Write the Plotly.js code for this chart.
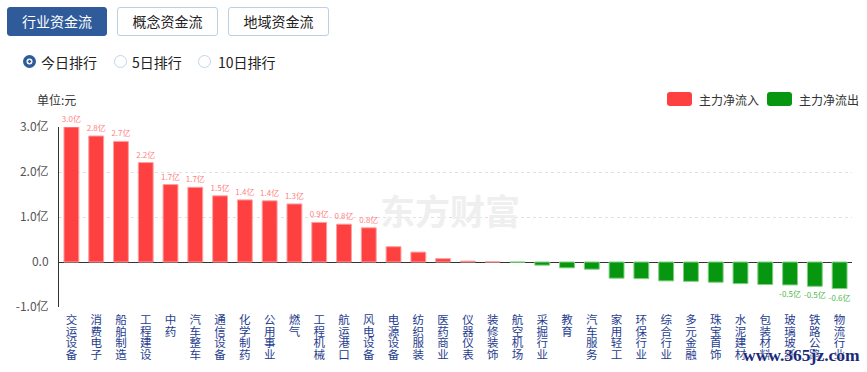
<!DOCTYPE html>
<html>
<head>
<meta charset="utf-8">
<script src="https://cdn.plot.ly/plotly-3.0.1.min.js"></script>
<style>
  html,body{margin:0;padding:0;background:#fff;}
  body{width:867px;height:372px;position:relative;overflow:hidden;font-family:"Noto Sans CJK SC","Noto Sans",sans-serif;}
  #chart{position:absolute;left:0;top:0;width:867px;height:372px;}
  .btn{position:absolute;top:7px;height:29px;box-sizing:border-box;border-radius:3px;font-size:14px;line-height:27px;text-align:center;z-index:2;}
  .btn.on{background:#2f5b9b;color:#fff;border:1px solid #2f5b9b;}
  .btn.off{background:#fff;color:#222;border:1px solid #b9d0e6;}
  .radio{position:absolute;top:54px;height:16px;font-size:14px;line-height:16px;color:#222;z-index:2;}
  .dot{position:absolute;left:0;top:1px;width:13px;height:13px;border-radius:50%;box-sizing:border-box;}
  .dot.on{background:#2f5b9b;}
  .dot.on:after{content:"";position:absolute;left:3.5px;top:3.5px;width:3px;height:3px;border-radius:50%;background:#2f5b9b;border:1px solid #fff;box-shadow:0 0 0 0.5px #fff;}
  .dot.off{border:1px solid #c2d5ea;background:#fff;}
  .radio span{position:absolute;white-space:nowrap;top:0;}
  #wm{position:absolute;left:743px;top:345px;font-family:"Liberation Serif","DejaVu Serif",serif;font-weight:bold;font-size:17.5px;color:#1a2a78;z-index:3;text-shadow:0 0 2px #fff,0 0 2px #fff;}
</style>
</head>
<body>
<div id="chart"></div>
<div class="btn on" style="left:7px;width:100px;">行业资金流</div>
<div class="btn off" style="left:117px;width:101px;">概念资金流</div>
<div class="btn off" style="left:228px;width:101px;">地域资金流</div>
<div class="radio" style="left:23px;width:80px;"><div class="dot on"></div><span style="left:18px;">今日排行</span></div>
<div class="radio" style="left:114px;width:80px;"><div class="dot off"></div><span style="left:18px;">5日排行</span></div>
<div class="radio" style="left:198px;width:90px;"><div class="dot off"></div><span style="left:20px;">10日排行</span></div>
<div id="wm">www.365jz.com</div>
<script>
// ---- data ----
var categories = ['交运设备','消费电子','船舶制造','工程建设','中药','汽车整车','通信设备','化学制药','公用事业','燃气',
  '工程机械','航运港口','风电设备','电源设备','纺织服装','医药商业','仪器仪表','装修装饰','航空机场','采掘行业',
  '教育','汽车服务','家用轻工','环保行业','综合行业','多元金融','珠宝首饰','水泥建材','包装材料','玻璃玻纤','铁路公路','物流行业'];
var netFlow = [3.0,2.8,2.68,2.21,1.72,1.66,1.47,1.38,1.36,1.29,
  0.88,0.84,0.76,0.34,0.22,0.075,0.02,0.004,-0.004,-0.07,
  -0.13,-0.16,-0.36,-0.37,-0.42,-0.43,-0.45,-0.48,-0.50,-0.51,-0.54,-0.59];
var valueLabels = ['3.0亿','2.8亿','2.7亿','2.2亿','1.7亿','1.7亿','1.5亿','1.4亿','1.4亿','1.3亿',
  '0.9亿','0.8亿','0.8亿','','','','','','','',
  '','','','','','','','','','-0.5亿','-0.5亿','-0.6亿'];
var yTickVals = [-1,0,1,2,3];
var yTickText = ['-1.0亿','0.0','1.0亿','2.0亿','3.0亿'];
var seriesNames = ['主力净流入','主力净流出'];

// ---- build ----
var inflow = netFlow.map(function(v){return v>=0?v:null;});
var outflow = netFlow.map(function(v){return v<0?v:null;});
var inText = netFlow.map(function(v,i){return v>=0?valueLabels[i]:'';});
var outText = netFlow.map(function(v,i){return v<0?valueLabels[i]:'';});
var verticalText = categories.map(function(c){return c.split('').join('<br>');});

var RED='#ff4040', GREEN='#07960f';
var traces = [
  {type:'bar',name:seriesNames[0],x:categories,y:inflow,text:inText,textposition:'outside',cliponaxis:false,
   constraintext:'none',textfont:{size:8,color:'#ff7f7f',family:'Noto Sans CJK SC'},
   marker:{color:RED,line:{color:'#ffa0a0',width:1}},hoverinfo:'x+y',showlegend:false},
  {type:'bar',name:seriesNames[1],x:categories,y:outflow,text:outText,textposition:'outside',cliponaxis:false,
   constraintext:'none',textfont:{size:8,color:'#4cb84c',family:'Noto Sans CJK SC'},
   marker:{color:GREEN,line:{color:'#80d080',width:1}},hoverinfo:'x+y',showlegend:false}
];

var L=59, R=852, T=127, B=307, W=867, H=372;
function px(x){return (x-L)/(R-L);}
function py(y){return (B-y)/(B-T);}

var annotations = [];
annotations.push({x:px(35),xref:'paper',y:py(99),yref:'paper',xanchor:'left',yanchor:'middle',text:'单位:元',
  showarrow:false,font:{size:12,color:'#333',family:'Noto Sans CJK SC'}});
annotations.push({x:px(697),xref:'paper',y:py(99),yref:'paper',xanchor:'left',yanchor:'middle',text:seriesNames[0],
  showarrow:false,font:{size:12,color:'#333',family:'Noto Sans CJK SC'}});
annotations.push({x:px(797),xref:'paper',y:py(99),yref:'paper',xanchor:'left',yanchor:'middle',text:seriesNames[1],
  showarrow:false,font:{size:12,color:'#333',family:'Noto Sans CJK SC'}});
annotations.push({x:px(450),xref:'paper',y:py(209),yref:'paper',xanchor:'center',yanchor:'middle',text:'<b>东方财富</b>',
  showarrow:false,font:{size:35,color:'#efefef',family:'Noto Sans CJK SC'}});

function rrect(x0,y0,x1,y1,r){
  var a=px(x0),b=px(x1),c=py(y0),d=py(y1);
  var rx=r/(R-L), ry=r/(B-T);
  return 'M'+(a+rx)+','+c+' L'+(b-rx)+','+c+' Q'+b+','+c+' '+b+','+(c-ry)+' L'+b+','+(d+ry)+' Q'+b+','+d+' '+(b-rx)+','+d+
    ' L'+(a+rx)+','+d+' Q'+a+','+d+' '+a+','+(d+ry)+' L'+a+','+(c-ry)+' Q'+a+','+c+' '+(a+rx)+','+c+' Z';
}
var shapes = [
  {type:'path',xref:'paper',yref:'paper',path:rrect(667,92,692,106,3),fillcolor:RED,line:{width:0}},
  {type:'path',xref:'paper',yref:'paper',path:rrect(767,92,792,106,3),fillcolor:GREEN,line:{width:0}}
];

var layout = {
  width:W,height:H,margin:{l:L,r:W-R,t:T,b:H-B,pad:0},
  paper_bgcolor:'#fff',plot_bgcolor:'#fff',
  barmode:'relative',bargap:0.4,showlegend:false,
  font:{family:'Noto Sans CJK SC',size:12,color:'#444'},
  xaxis:{type:'category',tickvals:categories,ticktext:verticalText,tickangle:0,showgrid:false,zeroline:false,showline:false,
    ticks:'outside',ticklen:2,tickcolor:'rgba(0,0,0,0)',tickfont:{size:11.5,color:'#1f3d8f'},fixedrange:true,automargin:false},
  yaxis:{range:[-1,3],tickvals:yTickVals,ticktext:yTickText,showgrid:true,gridcolor:'#e0e0e0',griddash:'dot',
    zeroline:true,zerolinecolor:'#333',zerolinewidth:1,showline:true,linecolor:'#333',linewidth:1,
    ticks:'outside',ticklen:7,tickcolor:'rgba(0,0,0,0)',tickfont:{size:12,color:'#555'},fixedrange:true},
  annotations:annotations,shapes:shapes
};
Plotly.newPlot('chart',traces,layout,{displayModeBar:false,staticPlot:true}).then(function(gd){
  // tighten the stacked (vertical) category labels to the reference's line pitch
  var k = 1.02/1.3;
  gd.querySelectorAll('.xtick text tspan.line').forEach(function(t){
    var dy=t.getAttribute('dy');
    if(dy){ var v=parseFloat(dy); if(v) t.setAttribute('dy',(v*k).toFixed(4)+'em'); }
  });
});
</script>
</body>
</html>
